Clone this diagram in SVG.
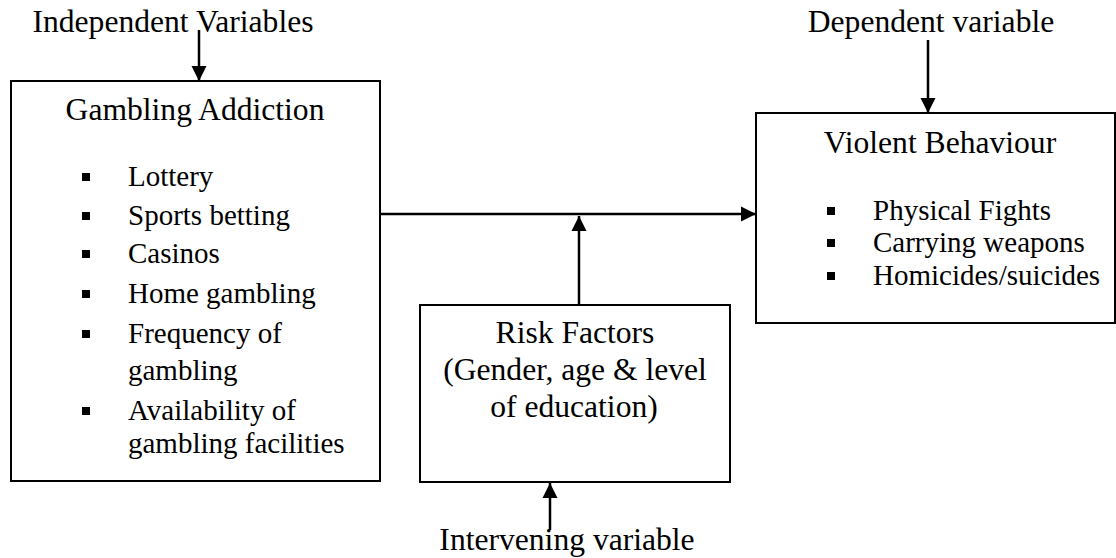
<svg xmlns="http://www.w3.org/2000/svg" width="1116" height="558" viewBox="0 0 1116 558">
<style>
.box{fill:#fff;stroke:#000;stroke-width:2}
text{font-family:'Liberation Serif','Times New Roman',serif;fill:#000}
.t{font-size:31.6px}
.i{font-size:29px}
.c{text-anchor:middle}
.con{stroke:#000;stroke-width:2.5;fill:none;marker-end:url(#ah)}
.b{fill:#000}
</style>
<defs>
<marker id="ah" markerUnits="userSpaceOnUse" markerWidth="16" markerHeight="16" refX="15" refY="8" orient="auto">
<path d="M0,0.5 L15,8 L0,15.5 z" fill="#000"/>
</marker>
</defs>
<rect width="1116" height="558" fill="#fff"/>
<g id="label-independent">
<text class="t c" x="173" y="32">Independent Variables</text>
</g>
<g id="label-dependent">
<text class="t c" x="931" y="32">Dependent variable</text>
</g>
<g id="label-intervening">
<text class="t c" x="567" y="550">Intervening variable</text>
</g>
<g id="gambling-addiction">
<rect class="box" x="11" y="81" width="369" height="400"/>
<text class="t c" x="195" y="120">Gambling Addiction</text>
<rect class="b" x="82" y="173" width="8" height="8"/>
<text class="i" x="128" y="186">Lottery</text>
<rect class="b" x="82" y="212" width="8" height="8"/>
<text class="i" x="128" y="225">Sports betting</text>
<rect class="b" x="82" y="250" width="8" height="8"/>
<text class="i" x="128" y="263">Casinos</text>
<rect class="b" x="82" y="290" width="8" height="8"/>
<text class="i" x="128" y="303">Home gambling</text>
<rect class="b" x="82" y="330" width="8" height="8"/>
<text class="i" x="128" y="343">Frequency of</text>
<text class="i" x="128" y="380">gambling</text>
<rect class="b" x="82" y="407" width="8" height="8"/>
<text class="i" x="128" y="420">Availability of</text>
<text class="i" x="128" y="453">gambling facilities</text>
</g>
<g id="violent-behaviour">
<rect class="box" x="756" y="113" width="359" height="210"/>
<text class="t c" x="940" y="153">Violent Behaviour</text>
<rect class="b" x="827" y="207" width="8" height="8"/>
<text class="i" x="873" y="220">Physical Fights</text>
<rect class="b" x="827" y="239" width="8" height="8"/>
<text class="i" x="873" y="252">Carrying weapons</text>
<rect class="b" x="827" y="272" width="8" height="8"/>
<text class="i" x="873" y="285">Homicides/suicides</text>
</g>
<g id="risk-factors">
<rect class="box" x="420" y="305" width="310" height="177"/>
<text class="t c" x="575" y="343">Risk Factors</text>
<text class="t c" x="575" y="380">(Gender, age &amp; level</text>
<text class="t c" x="574" y="417">of education)</text>
</g>
<g id="connectors">
<line class="con" x1="199" y1="30" x2="199" y2="81"/>
<line class="con" x1="928" y1="40" x2="928" y2="113"/>
<line class="con" x1="381" y1="214" x2="756" y2="214"/>
<line class="con" x1="579" y1="305" x2="579" y2="216"/>
<line class="con" x1="550" y1="530" x2="550" y2="483"/>
</g>
</svg>
